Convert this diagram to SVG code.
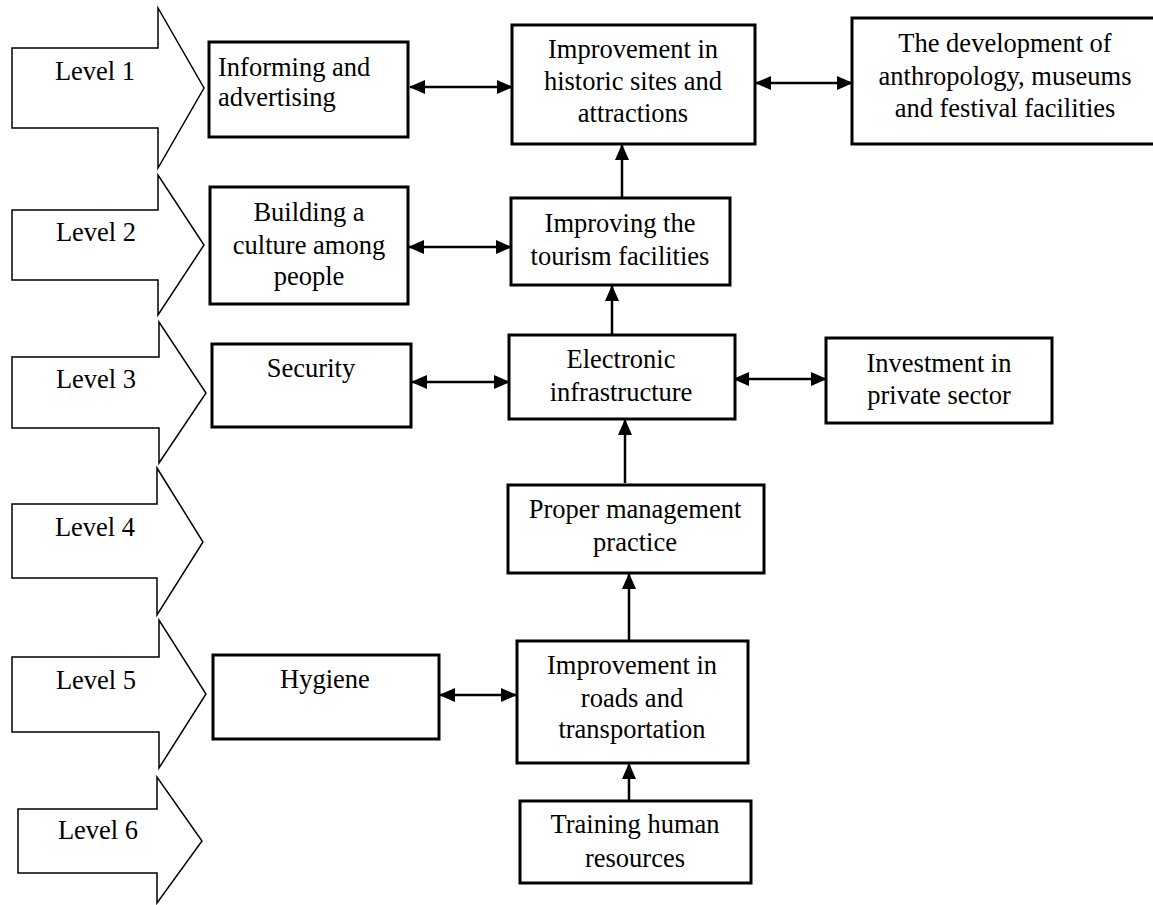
<svg xmlns="http://www.w3.org/2000/svg" width="1153" height="905" viewBox="0 0 1153 905">
<style>
  .lvl { fill: #fff; stroke: #000; stroke-width: 1.5; stroke-linejoin: miter; }
  .box { fill: #fff; stroke: #000; stroke-width: 3; }
  .t { font-family: "Liberation Serif", "Times New Roman", serif; font-size: 26.5px; fill: #000; }
  .c { text-anchor: middle; }
  .con { stroke: #000; stroke-width: 2.5; fill: none; }
</style>
<defs>
  <marker id="ah" markerUnits="userSpaceOnUse" markerWidth="16" markerHeight="14" refX="15" refY="7" orient="auto-start-reverse">
    <path d="M0,0 L16,7 L0,14 z" fill="#000"/>
  </marker>
</defs>

<g id="level1"><path class="lvl" d="M12,48 H158 V8 L204,88 L158,168 V128 H12 Z"/><text class="t c" x="95" y="80">Level 1</text></g>
<g id="level2"><path class="lvl" d="M12,210 H158 V175 L204,245 L158,315 V280 H12 Z"/><text class="t c" x="96" y="241">Level 2</text></g>
<g id="level3"><path class="lvl" d="M12,357 H159 V322 L206,393 L159,463 V428 H12 Z"/><text class="t c" x="96" y="388">Level 3</text></g>
<g id="level4"><path class="lvl" d="M12,504 H157 V468 L203,542 L157,615 V578 H12 Z"/><text class="t c" x="95" y="536">Level 4</text></g>
<g id="level5"><path class="lvl" d="M12,657 H159 V620 L206,694 L159,768 V732 H12 Z"/><text class="t c" x="96" y="689">Level 5</text></g>
<g id="level6"><path class="lvl" d="M18,809 H157 V777 L202,841 L157,903 V873 H18 Z"/><text class="t c" x="98" y="839">Level 6</text></g>

<g id="connectors">
  <line class="con" x1="410" y1="87" x2="512" y2="87" marker-start="url(#ah)" marker-end="url(#ah)"/>
  <line class="con" x1="756" y1="83" x2="852" y2="83" marker-start="url(#ah)" marker-end="url(#ah)"/>
  <line class="con" x1="622" y1="198" x2="622" y2="145" marker-end="url(#ah)"/>
  <line class="con" x1="409" y1="247" x2="511" y2="247" marker-start="url(#ah)" marker-end="url(#ah)"/>
  <line class="con" x1="612" y1="335" x2="612" y2="286" marker-end="url(#ah)"/>
  <line class="con" x1="412" y1="382" x2="509" y2="382" marker-start="url(#ah)" marker-end="url(#ah)"/>
  <line class="con" x1="734" y1="379" x2="826" y2="379" marker-start="url(#ah)" marker-end="url(#ah)"/>
  <line class="con" x1="625" y1="483" x2="625" y2="420" marker-end="url(#ah)"/>
  <line class="con" x1="629" y1="641" x2="629" y2="574" marker-end="url(#ah)"/>
  <line class="con" x1="440" y1="695" x2="516" y2="695" marker-start="url(#ah)" marker-end="url(#ah)"/>
  <line class="con" x1="629" y1="801" x2="629" y2="764" marker-end="url(#ah)"/>
</g>

<g id="informing"><rect class="box" x="209" y="42" width="199" height="95"/><text class="t" x="218" y="76">Informing and</text><text class="t" x="218" y="106">advertising</text></g>
<g id="historic"><rect class="box" x="512" y="25" width="243" height="119"/><text class="t c" x="633" y="58">Improvement in</text><text class="t c" x="633" y="90">historic sites and</text><text class="t c" x="633" y="122">attractions</text></g>
<g id="development"><rect class="box" x="852" y="18" width="305" height="126"/><text class="t c" x="1005" y="52">The development of</text><text class="t c" x="1005" y="85">anthropology, museums</text><text class="t c" x="1005" y="117">and festival facilities</text></g>
<g id="building"><rect class="box" x="210" y="187" width="198" height="117"/><text class="t c" x="309" y="221">Building a</text><text class="t c" x="309" y="254">culture among</text><text class="t c" x="309" y="285">people</text></g>
<g id="tourism"><rect class="box" x="511" y="198" width="219" height="87"/><text class="t c" x="620" y="232">Improving the</text><text class="t c" x="620" y="265">tourism facilities</text></g>
<g id="security"><rect class="box" x="212" y="344" width="199" height="83"/><text class="t c" x="311" y="377">Security</text></g>
<g id="electronic"><rect class="box" x="509" y="335" width="226" height="84"/><text class="t c" x="621" y="368">Electronic</text><text class="t c" x="621" y="401">infrastructure</text></g>
<g id="investment"><rect class="box" x="826" y="338" width="226" height="85"/><text class="t c" x="939" y="372">Investment in</text><text class="t c" x="939" y="404">private sector</text></g>
<g id="management"><rect class="box" x="508" y="485" width="256" height="88"/><text class="t c" x="635" y="518">Proper management</text><text class="t c" x="635" y="551">practice</text></g>
<g id="hygiene"><rect class="box" x="213" y="655" width="226" height="84"/><text class="t c" x="325" y="688">Hygiene</text></g>
<g id="roads"><rect class="box" x="517" y="641" width="231" height="122"/><text class="t c" x="632" y="674">Improvement in</text><text class="t c" x="632" y="707">roads and</text><text class="t c" x="632" y="738">transportation</text></g>
<g id="training"><rect class="box" x="520" y="801" width="231" height="82"/><text class="t c" x="635" y="833">Training human</text><text class="t c" x="635" y="867">resources</text></g>
</svg>
